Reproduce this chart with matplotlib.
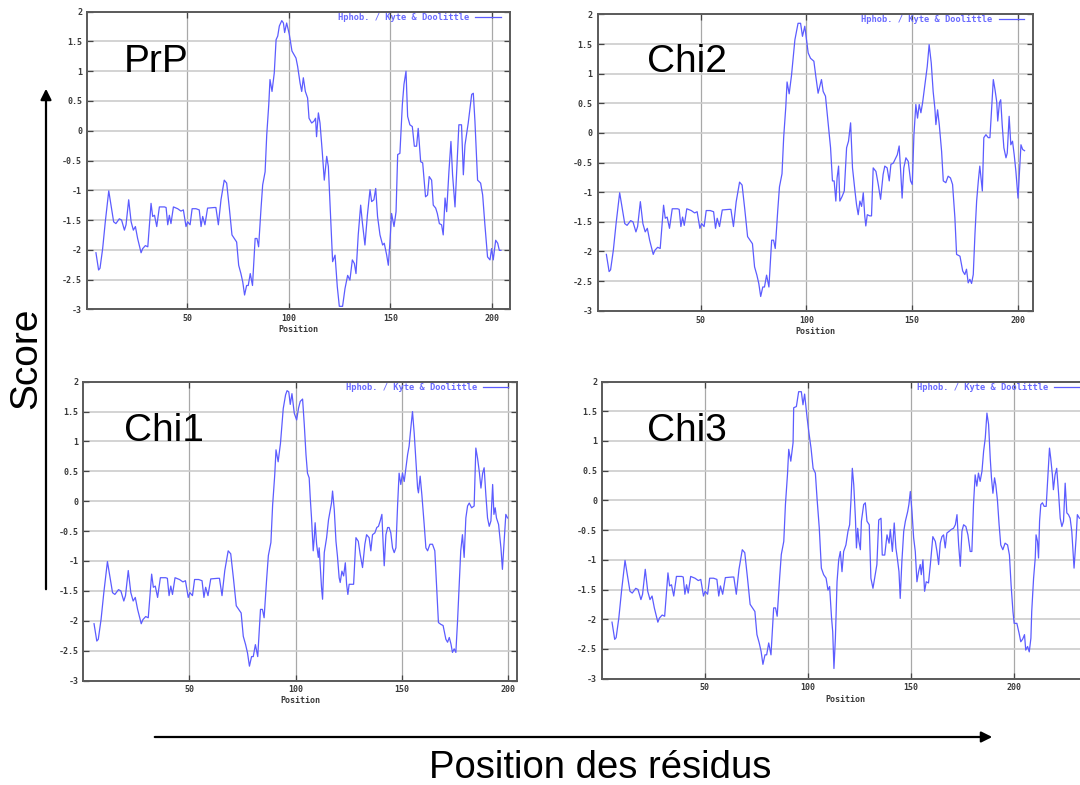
import matplotlib
matplotlib.use("Agg")
import matplotlib.pyplot as plt
from matplotlib.patches import FancyArrowPatch

# Kyte & Doolittle hydrophobicity profiles
# shared N-terminal part, identical in the four proteins
head_pos = [5.2, 6.5, 7.2, 8.5, 9.8, 11.5, 12.6, 13.9, 15.0, 16.7,
            17.8, 19.2, 20.0, 21.3, 22.5, 23.6, 24.6, 25.7, 27.4, 28.2,
            29.5, 30.7, 32.3, 33.1, 34.0, 35.1, 36.4, 38.9, 39.7, 40.5,
            41.3, 42.1, 43.3, 45.4, 47.0, 48.2, 49.5, 50.3, 51.5, 52.5,
            54.4, 56.0, 56.9, 57.7, 58.8, 60.1, 63.4, 64.2, 65.4, 66.7,
            68.3, 69.5, 70.8, 72.1, 73.8, 74.4, 75.4, 76.5, 77.4, 78.3,
            79.3, 80.1, 81.1, 82.2, 83.5, 84.4, 85.2, 86.4, 87.2, 88.4,
            89.2, 90.2, 90.8, 91.8, 92.9]
head_score = [-2.05, -2.34, -2.31, -1.98, -1.53, -1.01, -1.25, -1.53, -1.56, -1.48,
              -1.50, -1.67, -1.58, -1.16, -1.53, -1.67, -1.61, -1.81, -2.05, -1.98,
              -1.93, -1.95, -1.22, -1.44, -1.42, -1.61, -1.28, -1.28, -1.29, -1.58,
              -1.42, -1.56, -1.28, -1.31, -1.35, -1.33, -1.61, -1.53, -1.58, -1.31,
              -1.31, -1.33, -1.61, -1.44, -1.58, -1.30, -1.29, -1.29, -1.58, -1.16,
              -0.83, -0.88, -1.30, -1.75, -1.84, -1.87, -2.26, -2.40, -2.54, -2.76,
              -2.60, -2.60, -2.40, -2.60, -1.81, -1.81, -1.95, -1.30, -0.91, -0.69,
              -0.07, 0.44, 0.86, 0.66, 0.97]

prp_pos = [93.8, 94.6, 95.4, 96.6, 97.4, 98.0, 99.0, 100.3, 101.6, 103.6,
           104.4, 105.6, 106.4, 107.2, 108.2, 109.3, 110.0, 111.3, 112.4, 113.2,
           113.7, 114.6, 115.4, 116.5, 117.5, 118.7, 119.5, 120.8, 121.6, 122.8,
           123.9, 124.9, 126.5, 127.7, 129.0, 130.1, 131.3, 132.3, 133.1, 134.2,
           135.4, 136.2, 137.5, 138.7, 140.0, 140.8, 141.9, 142.8, 143.7, 144.9,
           146.2, 147.0, 148.2, 149.0, 149.8, 150.6, 151.8, 152.8, 153.6, 154.7,
           155.9, 156.7, 157.7, 158.5, 159.6, 160.8, 161.8, 162.9, 163.7, 164.9,
           165.9, 167.3, 168.3, 169.1, 170.3, 171.1, 172.3, 173.1, 174.1, 175.2,
           176.0, 176.9, 177.7, 178.8, 179.8, 180.6, 181.8, 182.6, 183.7, 185.0,
           185.9, 186.7, 188.3, 190.0, 190.8, 191.6, 192.9, 194.4, 195.4, 196.5,
           197.8, 199.0, 199.8, 200.6, 201.8, 202.8, 203.6, 204.4]
prp_score = [1.53, 1.59, 1.76, 1.85, 1.81, 1.65, 1.81, 1.62, 1.34, 1.22,
             1.08, 0.80, 0.66, 0.89, 0.66, 0.55, 0.21, 0.13, 0.16, 0.21,
             -0.10, 0.30, 0.13, -0.35, -0.83, -0.43, -0.60, -1.58, -2.20, -2.09,
             -2.62, -2.95, -2.95, -2.65, -2.43, -2.51, -2.17, -2.23, -2.40, -1.75,
             -1.25, -1.53, -1.92, -1.42, -0.99, -1.19, -1.16, -0.97, -1.44, -1.75,
             -1.92, -1.89, -2.09, -2.26, -1.87, -1.39, -1.61, -1.36, -0.40, -0.38,
             0.44, 0.78, 1.00, 0.24, 0.10, 0.07, -0.26, -0.26, 0.04, -0.52,
             -0.54, -1.11, -1.08, -0.77, -0.83, -1.25, -1.30, -1.39, -1.56, -1.58,
             -1.75, -1.13, -1.36, -0.69, -0.18, -0.74, -1.28, -0.69, 0.10, 0.10,
             -0.74, -0.24, 0.13, 0.61, 0.63, 0.16, -0.83, -0.88, -1.08, -1.58,
             -2.12, -2.17, -1.98, -2.17, -1.84, -1.89, -2.01, -2.01]

chi2_pos = [94.5, 96.0, 97.2, 98.1, 99.2, 100.8, 101.9, 103.5, 104.4, 105.5,
            107.1, 107.9, 109.0, 110.3, 111.4, 112.3, 113.1, 113.9, 114.5, 115.2,
            115.8, 116.9, 117.9, 119.0, 119.9, 120.9, 121.8, 122.9, 123.7, 124.5,
            125.3, 126.1, 126.9, 127.6, 128.1, 128.8, 130.0, 130.8, 131.6, 132.9,
            134.0, 135.1, 136.3, 137.1, 138.2, 139.2, 140.0, 141.1, 142.3, 143.0,
            143.9, 144.7, 145.3, 146.1, 147.1, 148.2, 149.3, 150.1, 150.9, 151.8,
            152.6, 153.4, 154.2, 155.0, 155.8, 156.4, 157.2, 158.1, 159.1, 160.0,
            160.8, 161.3, 162.1, 162.9, 164.0, 164.8, 166.0, 167.1, 168.2, 169.2,
            170.3, 171.1, 172.7, 174.0, 175.0, 175.8, 176.6, 177.4, 178.2, 179.0,
            179.8, 180.6, 181.4, 182.1, 183.3, 184.0, 185.0, 186.1, 186.9, 187.7,
            188.5, 189.3, 190.1, 190.6, 191.4, 192.0, 192.7, 193.5, 194.5, 195.1,
            196.0, 196.8, 197.6, 198.4, 199.2, 200.2, 200.8, 201.6, 202.4, 203.3]
chi2_score = [1.57, 1.85, 1.85, 1.63, 1.80, 1.35, 1.26, 1.21, 0.96, 0.67,
              0.90, 0.70, 0.62, 0.14, -0.25, -0.81, -0.81, -1.15, -0.76, -0.56,
              -1.15, -1.07, -0.98, -0.25, -0.14, 0.17, -0.59, -0.96, -1.21, -1.38,
              -1.15, -1.24, -1.01, -1.40, -1.57, -1.38, -1.40, -1.40, -0.59, -0.65,
              -0.87, -1.12, -0.70, -0.56, -0.59, -0.81, -0.53, -0.51, -0.42, -0.37,
              -0.22, -0.70, -1.10, -0.59, -0.42, -0.48, -0.81, -0.87, -0.03, 0.48,
              0.25, 0.48, 0.34, 0.51, 0.73, 0.90, 1.12, 1.49, 1.18, 0.70,
              0.42, 0.14, 0.39, 0.14, -0.31, -0.81, -0.84, -0.73, -0.76, -0.87,
              -1.43, -2.05, -2.08, -2.33, -2.39, -2.30, -2.53, -2.47, -2.54, -2.39,
              -1.71, -1.15, -0.81, -0.56, -0.98, -0.08, -0.03, -0.08, -0.08, 0.42,
              0.90, 0.73, 0.53, 0.20, 0.51, 0.56, 0.14, -0.25, -0.42, -0.34,
              0.28, -0.20, -0.14, -0.37, -0.65, -1.10, -0.70, -0.20, -0.28, -0.30]

chi1_pos = [94.2, 95.3, 96.0, 96.8, 97.5, 98.3, 99.4, 100.5, 101.4, 102.2,
            103.3, 104.1, 104.9, 105.6, 106.4, 106.9, 107.5, 108.3, 108.8, 109.2,
            109.9, 110.7, 111.1, 112.2, 112.7, 113.5, 114.6, 115.5, 116.1, 116.9,
            117.4, 118.2, 119.0, 119.7, 120.5, 121.0, 121.8, 122.6, 123.4, 124.0,
            124.6, 125.2, 126.3, 127.3, 128.4, 129.5, 130.4, 131.5, 132.6, 133.4,
            134.6, 135.4, 136.2, 137.3, 138.2, 139.0, 139.8, 140.6, 141.2, 141.7,
            142.5, 143.3, 144.0, 144.8, 145.6, 146.4, 147.2, 148.0, 148.7, 149.5,
            150.3, 151.1, 151.9, 152.7, 153.4, 154.2, 155.0, 155.8, 156.6, 157.4,
            157.8, 158.6, 159.4, 160.5, 161.3, 162.1, 163.2, 164.4, 165.5, 166.3,
            167.2, 168.3, 169.4, 170.7, 171.5, 172.3, 173.1, 173.8, 174.6, 175.4,
            176.2, 177.0, 177.7, 178.5, 179.3, 180.1, 180.9, 181.7, 182.8, 184.0,
            184.8, 185.6, 186.4, 187.2, 188.0, 188.7, 189.5, 190.3, 191.1, 191.9,
            192.7, 193.3, 193.9, 194.5, 195.5, 196.6, 197.3, 198.1, 198.9, 199.7]
chi1_score = [1.55, 1.78, 1.85, 1.83, 1.62, 1.80, 1.47, 1.36, 1.56, 1.67,
              1.71, 1.28, 0.78, 0.47, 0.39, 0.06, -0.28, -0.83, -0.61, -0.36,
              -0.72, -0.94, -0.78, -1.44, -1.64, -0.86, -0.61, -0.31, -0.19, -0.03,
              0.17, -0.14, -0.67, -0.92, -1.28, -1.36, -1.17, -1.25, -1.03, -1.39,
              -1.56, -1.39, -1.39, -1.39, -0.61, -0.67, -0.89, -1.11, -0.72, -0.56,
              -0.61, -0.83, -0.56, -0.53, -0.44, -0.42, -0.33, -0.22, -0.72, -1.08,
              -0.56, -0.44, -0.44, -0.53, -0.78, -0.86, -0.78, -0.06, 0.47, 0.28,
              0.47, 0.33, 0.56, 0.78, 0.92, 1.22, 1.50, 1.14, 0.67, 0.22,
              0.14, 0.42, 0.11, -0.39, -0.78, -0.83, -0.72, -0.72, -0.83, -1.39,
              -2.03, -2.06, -2.08, -2.31, -2.36, -2.28, -2.39, -2.53, -2.47, -2.53,
              -2.00, -1.39, -0.83, -0.56, -0.94, -0.28, -0.08, -0.03, -0.11, -0.08,
              0.89, 0.72, 0.50, 0.22, 0.47, 0.56, 0.11, -0.28, -0.42, -0.33,
              0.28, -0.22, -0.11, -0.28, -0.39, -0.78, -1.14, -0.67, -0.22, -0.28]

chi3_pos = [93.2, 94.5, 95.6, 96.9, 97.7, 98.5, 99.7, 100.5, 101.6, 102.6,
            103.7, 104.5, 105.6, 106.6, 107.7, 108.9, 109.8, 110.6, 111.5, 112.1,
            112.7, 113.4, 114.2, 115.0, 115.8, 116.6, 117.4, 118.5, 119.5, 120.3,
            121.0, 121.6, 122.3, 123.1, 123.6, 124.2, 124.8, 125.5, 126.0, 127.1,
            127.9, 128.7, 129.8, 130.6, 131.6, 132.7, 133.5, 134.4, 135.5, 136.1,
            137.3, 138.4, 139.4, 140.0, 141.0, 141.9, 142.7, 143.5, 144.2, 144.8,
            145.6, 146.5, 147.3, 148.4, 149.0, 149.7, 150.5, 151.3, 152.1, 152.9,
            153.7, 154.5, 155.0, 155.8, 156.6, 157.4, 158.5, 159.4, 160.6, 161.8,
            162.6, 163.4, 164.2, 165.0, 165.8, 166.6, 167.4, 168.5, 169.5, 170.6,
            171.5, 172.3, 173.1, 173.9, 174.7, 175.5, 176.6, 177.6, 178.7, 179.5,
            180.3, 181.1, 181.9, 182.7, 183.5, 184.4, 185.2, 186.0, 186.8, 187.6,
            188.4, 189.0, 189.7, 190.5, 191.1, 191.9, 192.7, 193.5, 194.5, 195.6,
            196.8, 197.7, 198.5, 199.4, 200.0, 201.3, 202.4, 203.2, 204.2, 205.0,
            205.6, 206.5, 207.3, 208.1, 208.5, 209.4, 210.2, 210.6, 211.3, 211.8,
            212.3, 212.9, 213.7, 214.5, 215.5, 216.3, 217.1, 217.7, 218.5, 219.0,
            219.8, 220.6, 221.5, 222.3, 223.1, 223.9, 224.7, 225.5, 226.3, 227.1,
            227.9, 229.0, 230.0, 230.6, 231.6]
chi3_score = [1.56, 1.58, 1.83, 1.83, 1.61, 1.79, 1.39, 1.16, 0.88, 0.54,
              0.46, 0.04, -0.47, -1.14, -1.25, -1.31, -1.51, -1.45, -1.96, -2.21,
              -2.83, -2.32, -1.37, -1.00, -0.86, -1.20, -0.86, -0.75, -0.52, -0.41,
              0.04, 0.54, 0.26, -0.30, -0.80, -0.47, -0.69, -0.83, -0.35, -0.07,
              -0.04, -0.35, -0.41, -1.31, -1.48, -1.25, -1.08, -0.33, -0.30, -0.92,
              -0.92, -0.58, -0.72, -0.49, -0.86, -0.38, -0.80, -1.00, -1.20, -1.65,
              -1.03, -0.52, -0.35, -0.19, -0.07, 0.15, -0.19, -0.63, -0.86, -1.37,
              -1.20, -1.08, -1.25, -1.00, -1.53, -1.37, -1.39, -1.08, -0.61, -0.69,
              -0.86, -1.08, -0.72, -0.61, -0.58, -0.80, -0.55, -0.52, -0.49, -0.47,
              -0.41, -0.24, -0.75, -1.11, -0.52, -0.41, -0.44, -0.58, -0.86, -0.86,
              -0.07, 0.43, 0.24, 0.46, 0.32, 0.49, 0.83, 1.05, 1.47, 1.28,
              0.71, 0.38, 0.12, 0.38, 0.26, 0.00, -0.41, -0.75, -0.83, -0.72,
              -0.75, -0.92, -1.42, -1.87, -2.07, -2.07, -2.24, -2.38, -2.33, -2.26,
              -2.52, -2.46, -2.55, -2.32, -1.87, -1.31, -0.97, -0.58, -0.69, -0.97,
              -0.35, -0.07, -0.04, -0.10, -0.10, 0.38, 0.88, 0.71, 0.43, 0.18,
              0.43, 0.54, 0.12, -0.30, -0.44, -0.35, 0.29, -0.21, -0.24, -0.30,
              -0.52, -1.14, -0.63, -0.24, -0.30]

y_ticks = [2, 1.5, 1, 0.5, 0, -0.5, -1, -1.5, -2, -2.5, -3]
y_labels = ["2", "1.5", "1", "0.5", "0", "-0.5", "-1", "-1.5", "-2", "-2.5", "-3"]
x_ticks = [50, 100, 150, 200]
names = ["PrP", "Chi2", "Chi1", "Chi3"]

W, H = 1080, 785
BLUE = "#5c5cff"
MONO = "DejaVu Sans Mono"

fig = plt.figure(figsize=(W / 100, H / 100), dpi=100)
fig.patch.set_facecolor("white")


def fx(x):
    return x / W


def fy(y):
    return 1 - y / H


def panel(left, top, right, bottom, xlim, pos, score):
    ax = fig.add_axes([fx(left), fy(bottom), (right - left) / W, (bottom - top) / H])
    ax.plot(pos, score, color=BLUE, lw=0.9, label="Hphob. / Kyte & Doolittle")
    ax.set_xlim(*xlim)
    ax.set_ylim(-3, 2)
    ax.set_xticks(x_ticks)
    ax.set_xticklabels([str(t) for t in x_ticks])
    ax.set_yticks(y_ticks)
    ax.set_yticklabels(y_labels)
    ax.xaxis.grid(True, color="#a8a8a8", lw=0.9)
    ax.yaxis.grid(True, color="#cccccc", lw=1.2)
    ax.set_axisbelow(True)
    for s in ax.spines.values():
        s.set_color("#5a5a5a")
        s.set_linewidth(1.4)
    ax.tick_params(direction="in", length=4, width=0.9, color="#444444",
                   top=True, right=True, labelsize=6, labelcolor="#3a3a3a", pad=3.5)
    for lab in ax.get_xticklabels() + ax.get_yticklabels():
        lab.set_family(MONO)
        lab.set_fontweight("bold")
    ax.set_xlabel("Position", family=MONO, fontsize=6, fontweight="bold",
                  color="#3a3a3a", labelpad=1.5)
    w = right - left
    h = bottom - top
    ax.legend(loc="upper right", bbox_to_anchor=(1 - 9 / w, 1 - 1 / h), frameon=False,
              markerfirst=False, borderpad=0, borderaxespad=0, handlelength=2.9,
              handletextpad=0.7, prop={"family": MONO, "size": 6.3, "weight": "bold"},
              labelcolor="#6a6aff")
    return ax


panel(87, 11.7, 509.5, 309.3, (0.8, 208.6), head_pos + prp_pos, head_score + prp_score)
panel(597.5, 14.4, 1033, 310.7, (1.0, 207.3), head_pos + chi2_pos, head_score + chi2_score)
panel(83.3, 381.7, 517.3, 680.5, (0.15, 204.3), head_pos + chi1_pos, head_score + chi1_score)
panel(602, 381.6, 1088.5, 678.6, (0.35, 236.0), head_pos + chi3_pos, head_score + chi3_score)

# big panel names
big = dict(family="Liberation Sans", fontsize=28, color="black", ha="left", va="baseline")
fig.text(fx(124), fy(72), names[0], **big)
fig.text(fx(647), fy(72), names[1], **big)
fig.text(fx(124), fy(441), names[2], **big)
fig.text(fx(647), fy(441), names[3], **big)

# axis titles with arrows
fig.text(fx(26), fy(358), "Score", family="Liberation Sans", fontsize=28,
         rotation=90, ha="center", va="center")
fig.text(fx(600), fy(768), "Position des résidus", family="Liberation Sans",
         fontsize=27.5, ha="center", va="center")

fig.add_artist(FancyArrowPatch((fx(46), fy(592)), (fx(46), fy(86)), transform=fig.transFigure,
                               arrowstyle="-|>", mutation_scale=16, lw=1.6, color="black"))
fig.add_artist(FancyArrowPatch((fx(152), fy(737)), (fx(995), fy(737)), transform=fig.transFigure,
                               arrowstyle="-|>", mutation_scale=16, lw=1.6, color="black"))

fig.savefig("out.png", dpi=100, facecolor="white")
